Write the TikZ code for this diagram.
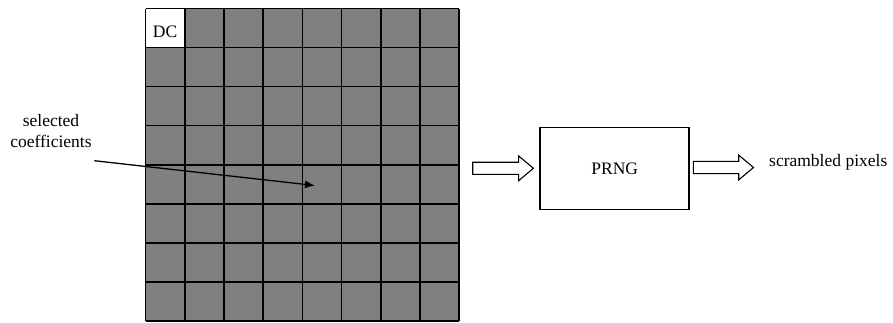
\documentclass[tikz,border=0pt]{standalone}
\usepackage{fontspec}
\setmainfont{Liberation Serif}
\usetikzlibrary{calc,arrows.meta}
\definecolor{cellgray}{HTML}{808080}
\tikzset{
  gridline/.style={line width=1.6bp, draw=black},
  lbl/.style={font=\fontsize{17.5bp}{20.5bp}\selectfont, inner sep=0pt},
  procbox/.style={draw=black, line width=1.6bp, minimum width=149bp, minimum height=82bp, inner sep=0pt, font=\fontsize{17.5bp}{20.5bp}\selectfont},
  barrow/.style={draw=black, line width=1.1bp, fill=white, line join=miter},
  pointer/.style={-{Latex[length=10bp,width=8bp]}, line width=1.3bp}
}
% hollow block arrow from #1 (tail, shaft centre) to #2 (tip)
\newcommand\blockarrow[2]{%
  \draw[barrow] ($(#1)+(0,-6.1)$) -- ($(#2)+(-14.8,-6.1)$) -- ($(#2)+(-14.8,-12.4)$)
    -- (#2) -- ($(#2)+(-14.8,12.4)$) -- ($(#2)+(-14.8,6.1)$) -- ($(#1)+(0,6.1)$) -- cycle;}
\begin{document}
\begin{tikzpicture}[x=1bp, y=-1bp]
  \useasboundingbox (0,0) rectangle (893,322);
  % 8x8 block of coefficients
  \def\gx{145.5}\def\gy{8.5}\def\cw{39.2}\def\ch{39.05}
  \fill[cellgray] (\gx,\gy) rectangle ({\gx+8*\cw},{\gy+8*\ch});
  \fill[white] (\gx,\gy) rectangle ({\gx+\cw},{\gy+\ch});
  \foreach \i in {0,...,8} {
    \draw[gridline] ({\gx+\i*\cw},\gy) -- ({\gx+\i*\cw},{\gy+8*\ch});
    \draw[gridline] (\gx,{\gy+\i*\ch}) -- ({\gx+8*\cw},{\gy+\i*\ch});
  }
  \node[lbl] (dc) at ({\gx+0.5*\cw},31.7) {DC};

  % label and pointer into the block
  \node[lbl, align=center] (sel) at (51,131) {selected\\coefficients};
  \coordinate (selfrom) at (94.3,160.7);
  \coordinate (selto) at (315,185.5);
  \draw[pointer] (selfrom) -- (selto);

  % generator
  \node[procbox] (prng) at (614.7,168.3) {PRNG};

  \node[lbl, anchor=base west] (scr) at (769,166.7) {scrambled pixels};

  % block arrows
  \coordinate (inS) at (472.7,168.3);
  \coordinate (inT) at ($(prng.west)+(-6,0)$);
  \blockarrow{inS}{inT}
  \coordinate (outS) at ($(prng.east)+(3.4,-0.8)$);
  \coordinate (outT) at ($(scr.base west)+(-15.5,0.8)$);
  \blockarrow{outS}{outT}
\end{tikzpicture}
\end{document}
